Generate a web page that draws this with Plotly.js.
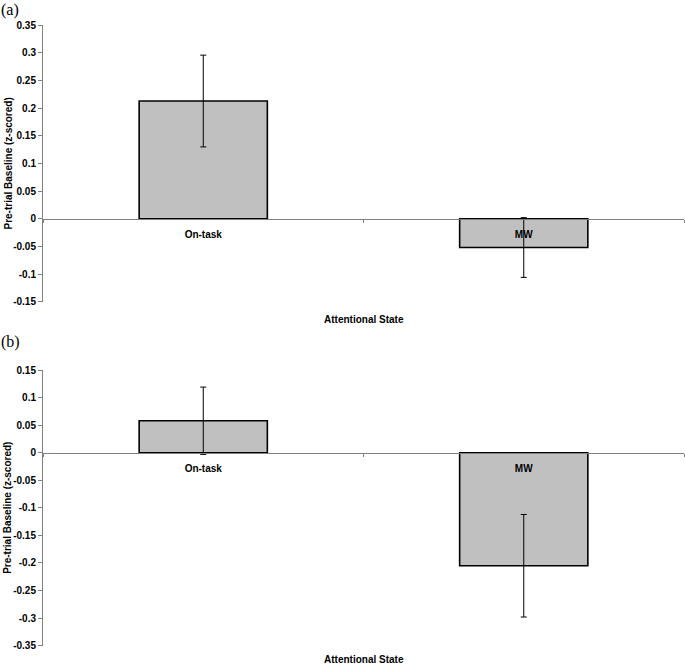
<!DOCTYPE html>
<html>
<head>
<meta charset="utf-8">
<script src="https://cdn.plot.ly/plotly-3.0.1.min.js"></script>
<style>
  html, body { margin: 0; padding: 0; background: #fff; }
  #chart { width: 685px; height: 666px; }
</style>
</head>
<body>
<div id="chart"></div>
<script>
// ---- data ----
var categories = ["On-task", "MW"];
var meansA = [0.213, -0.052];
var errorsA = [0.083, 0.054];
var meansB = [0.058, -0.205];
var errorsB = [0.061, 0.093];

var yTickValsA = [0.35, 0.3, 0.25, 0.2, 0.15, 0.1, 0.05, 0, -0.05, -0.1, -0.15];
var yTickTextA = ["0.35", "0.3", "0.25", "0.2", "0.15", "0.1", "0.05", "0", "-0.05", "-0.1", "-0.15"];
var yTickValsB = [0.15, 0.1, 0.05, 0, -0.05, -0.1, -0.15, -0.2, -0.25, -0.3, -0.35];
var yTickTextB = ["0.15", "0.1", "0.05", "0", "-0.05", "-0.1", "-0.15", "-0.2", "-0.25", "-0.3", "-0.35"];

var panelLabels = ["(a)", "(b)"];
var xTitle = "Attentional State";
var yTitle = "Pre-trial Baseline (z-scored)";

// ---- layout helpers ----
var H = 666;
var rangeA = [-0.15, 0.35];
var rangeB = [-0.35, 0.15];
var domA = [1 - 301.7 / H, 1 - 25.3 / H];
var domB = [1 - 645.7 / H, 1 - 370 / H];
function zeroPos(dom, rng) {
  return dom[0] + (0 - rng[0]) / (rng[1] - rng[0]) * (dom[1] - dom[0]);
}

var font = { family: "Liberation Sans, Arial, sans-serif", size: 10, color: "#000", weight: "bold" };
var gray = "#808080";

function barTrace(means, errs, xa, ya) {
  return {
    type: "bar",
    x: categories,
    y: means,
    xaxis: xa,
    yaxis: ya,
    marker: { color: "#c0c0c0", line: { color: "#000", width: 1.6 } },
    error_y: { type: "data", array: errs, visible: true, color: "#000", thickness: 1, width: 3 },
    hoverinfo: "none",
    showlegend: false
  };
}

var data = [
  barTrace(meansA, errorsA, "x", "y"),
  barTrace(meansB, errorsB, "x2", "y2")
];

function xAxis(pos) {
  return {
    domain: [0, 1],
    anchor: "free",
    position: pos,
    type: "category",
    showline: true,
    linecolor: gray,
    linewidth: 1,
    ticks: "outside",
    tickson: "boundaries",
    ticklen: 3,
    tickcolor: gray,
    tickwidth: 1,
    tickfont: font,
    ticklabelstandoff: 6,
    showgrid: false,
    zeroline: false,
    fixedrange: true
  };
}
function yAxis(dom, rng, vals, text, anchor) {
  return {
    domain: dom,
    range: rng,
    anchor: anchor,
    tickmode: "array",
    tickvals: vals,
    ticktext: text,
    showline: true,
    linecolor: gray,
    linewidth: 1,
    ticks: "outside",
    ticklen: 4,
    tickcolor: gray,
    tickwidth: 1,
    tickfont: font,
    showgrid: false,
    zeroline: false,
    fixedrange: true
  };
}

var layout = {
  width: 685,
  height: 666,
  margin: { l: 43, r: 1, t: 0, b: 0 },
  paper_bgcolor: "#fff",
  plot_bgcolor: "rgba(0,0,0,0)",
  bargap: 0.6,
  showlegend: false,
  xaxis: xAxis(zeroPos(domA, rangeA)),
  yaxis: yAxis(domA, rangeA, yTickValsA, yTickTextA, "x"),
  xaxis2: xAxis(zeroPos(domB, rangeB)),
  yaxis2: yAxis(domB, rangeB, yTickValsB, yTickTextB, "x2"),
  annotations: [
    { text: panelLabels[0], xref: "paper", yref: "paper", x: 0, y: 1 - 10 / H, xanchor: "left", yanchor: "middle", xshift: -44,
      showarrow: false, font: { family: "Liberation Serif, Times New Roman, serif", size: 16, color: "#000" } },
    { text: panelLabels[1], xref: "paper", yref: "paper", x: 0, y: 1 - 342 / H, xanchor: "left", yanchor: "middle", xshift: -44,
      showarrow: false, font: { family: "Liberation Serif, Times New Roman, serif", size: 16, color: "#000" } },
    { text: xTitle, xref: "paper", yref: "paper", x: 0.5, y: 1 - 319.5 / H, xanchor: "center", yanchor: "middle",
      showarrow: false, font: font },
    { text: xTitle, xref: "paper", yref: "paper", x: 0.5, y: 1 - 659 / H, xanchor: "center", yanchor: "middle",
      showarrow: false, font: font },
    { text: yTitle, xref: "paper", yref: "paper", x: 0, xshift: -35, y: (domA[0] + domA[1]) / 2, textangle: -90,
      xanchor: "center", yanchor: "middle", showarrow: false, font: font },
    { text: yTitle, xref: "paper", yref: "paper", x: 0, xshift: -35, y: (domB[0] + domB[1]) / 2, textangle: -90,
      xanchor: "center", yanchor: "middle", showarrow: false, font: font }
  ]
};

Plotly.newPlot("chart", data, layout, { displayModeBar: false, staticPlot: true });
</script>
</body>
</html>
